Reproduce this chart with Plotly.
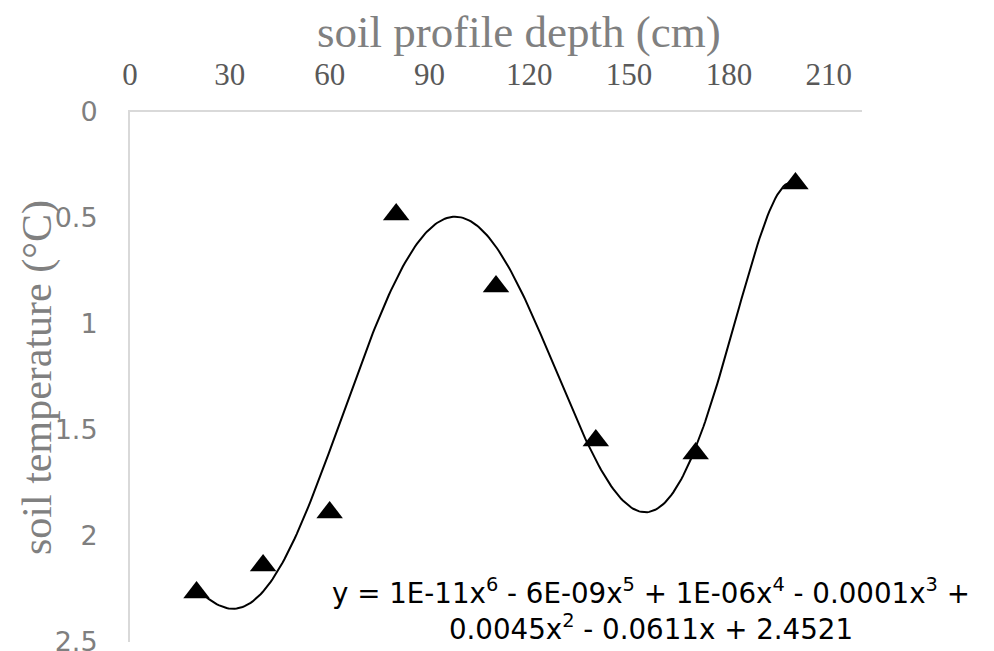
import numpy as np
import plotly.graph_objects as go

# Data
depth_cm = [20, 40, 60, 80, 110, 140, 170, 200]
soil_temp = [2.267, 2.139, 1.889, 0.483, 0.823, 1.550, 1.611, 0.337]
x_ticks = [0, 30, 60, 90, 120, 150, 180, 210]
y_ticks = [0, 0.5, 1, 1.5, 2, 2.5]
y_tick_text = ["0", "0.5", "1", "1.5", "2", "2.5"]

# 6th-order polynomial trendline fitted to the data (as in the original)
coef = np.polyfit(depth_cm, soil_temp, 6)
xs = np.linspace(min(depth_cm), max(depth_cm), 300)
ys = np.polyval(coef, xs)

fig = go.Figure()
fig.add_trace(go.Scatter(x=xs, y=ys, mode="lines",
                         line=dict(color="black", width=2), hoverinfo="skip",
                         showlegend=False))
fig.add_trace(go.Scatter(x=depth_cm, y=soil_temp, mode="markers",
                         marker=dict(symbol="triangle-up", size=23, color="black"),
                         showlegend=False))

serif = "Liberation Serif, Times New Roman, serif"
sans = "DejaVu Sans, Arial, sans-serif"

OFF = 8  # page body margin
W, H = 994 - OFF, 651 - OFF
L, T = 130 - OFF, 112 - OFF
R = W - (862 - OFF)
B = H - (642 - OFF)
pw, ph = W - L - R, H - T - B


def px(xs_screen):
    return (xs_screen - OFF - L) / pw


def py(ys_screen):
    return 1 - (ys_screen - OFF - T) / ph


fig.update_layout(
    width=W, height=H,
    margin=dict(l=L, r=R, t=T, b=B),
    paper_bgcolor="white", plot_bgcolor="white",
    xaxis=dict(side="top", range=[0, 220], tickvals=x_ticks,
               ticktext=[str(v) for v in x_ticks], automargin=False,
               showgrid=False, zeroline=False, showline=True,
               linecolor="#d9d9d9", linewidth=2, ticks="",
               ticklabelstandoff=13,
               tickfont=dict(family=serif, size=31, color="#595959")),
    yaxis=dict(range=[2.5, 0], tickvals=y_ticks, ticktext=y_tick_text,
               automargin=False, ticklabeloverflow="allow",
               showgrid=False, zeroline=False, showline=True,
               linecolor="#d9d9d9", linewidth=2, ticks="",
               ticklabelstandoff=25,
               tickfont=dict(family=sans, size=27, color="#7f7f7f")),
    annotations=[
        dict(text="soil profile depth (cm)", xref="paper", yref="paper",
             x=px(519), y=py(32),
             xanchor="center", yanchor="middle", showarrow=False,
             font=dict(family=serif, size=45, color="#808080")),
        dict(text="soil temperature (°C)", xref="paper", yref="paper",
             x=px(37), y=py(378),
             xanchor="center", yanchor="middle", textangle=-90, showarrow=False,
             font=dict(family=serif, size=42, color="#808080")),
        dict(text="y = 1E-11x<sup>6</sup> - 6E-09x<sup>5</sup> + 1E-06x<sup>4</sup> - 0.0001x<sup>3</sup> +<br>"
                  "0.0045x<sup>2</sup> - 0.0611x + 2.4521",
             xref="paper", yref="paper",
             x=px(651), y=py(609),
             xanchor="center", yanchor="middle", align="center", showarrow=False,
             font=dict(family=sans, size=27.7, color="black")),
    ],
)

fig.write_html("out.html")
